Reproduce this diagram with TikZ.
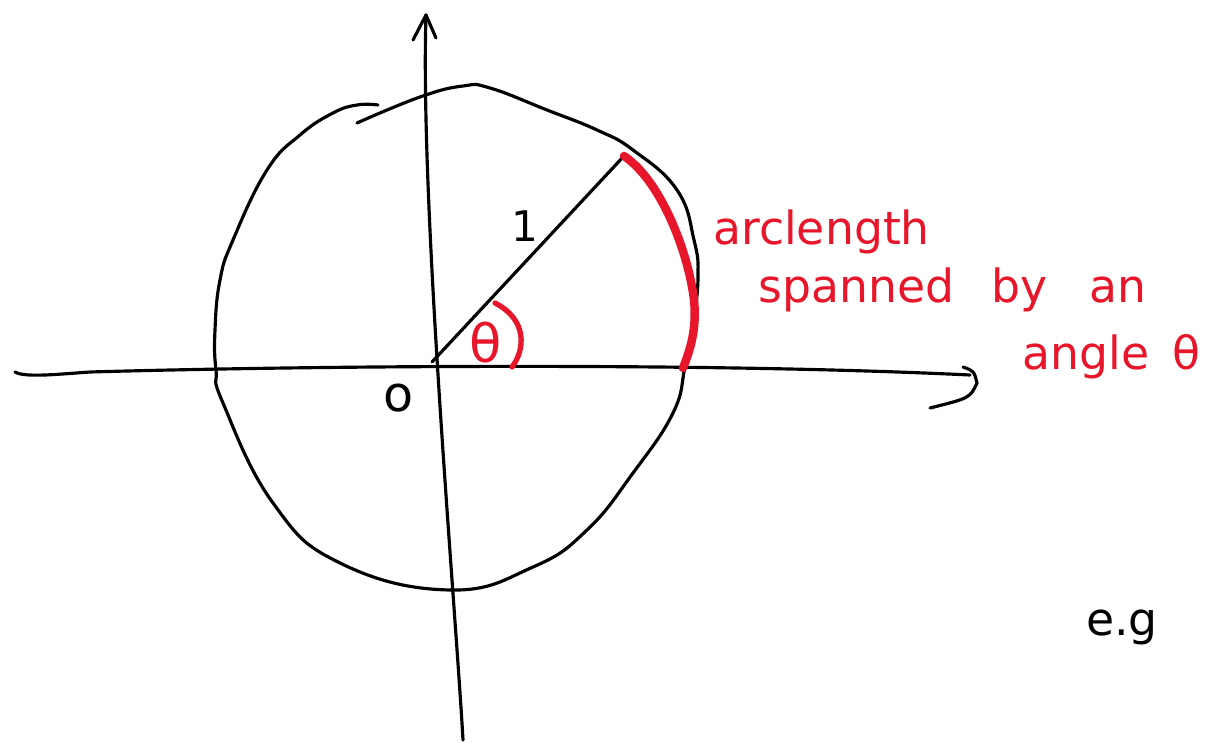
\documentclass[tikz,border=0pt]{standalone}
\usepackage{fontspec}
\setmainfont{DejaVu Sans}
\definecolor{inkred}{RGB}{232,22,42}
\tikzset{
  ink/.style={line width=1.8pt, line cap=round, line join=round},
  redink/.style={inkred, line width=3pt, line cap=round},
  note/.style={inkred, font=\fontsize{26}{30}\selectfont, inner sep=0pt, anchor=base west},
}
\begin{document}
\begin{tikzpicture}[x=0.02cm,y=-0.02cm]
\useasboundingbox (0,0) rectangle (1221,743);

% axes
\coordinate (xl) at (15,372);
\coordinate (xr) at (970,375);
\coordinate (yb) at (463,740);
\coordinate (yt) at (426,15);
\coordinate (O) at (432,362);
\coordinate (P) at (624,156);
\coordinate (Q) at (683,368);

\draw[ink] (xl) .. controls (25,378) and (60,374) .. (90,372)
  .. controls (300,366) and (700,362) .. (xr);
\draw[ink] (963,367) .. controls (974,371) .. (977,383)
  .. controls (970,398) .. (930,408);

\draw[ink] (yb) .. controls (455,600) and (420,200) .. (yt);
\draw[ink] (413,40) -- (yt) -- (436,38);

% unit circle, by hand
\draw[ink] plot[smooth, tension=0.75] coordinates {
  (357,123) (420,97) (463,86) (490,88) (547,110) (597,130)
  (633,150) (677,190) (694,240) (698,277) (693,325) (685,367)
  (673,413) (633,473) (587,530) (533,567) (450,590) (340,563) (273,503)
  (223,403) (216,370) (215,330) (220,280) (233,240) (267,170)
  (300,135) (333,113) (357,105) (378,105)};

% radius
\draw[ink] (O) -- (P);
\node[font=\fontsize{24}{28}\selectfont] (one) at (525,226) {1};

% arc length
\draw[inkred, line width=4.8pt, line cap=round]
  (P) .. controls (660,180) and (688,250) .. (694,300)
  .. controls (697,330) and (690,350) .. (Q);

% angle
\draw[redink] (495,303) .. controls (528,320) and (525,350) .. (512,367);
\node[inkred, font=\fontsize{30}{34}\selectfont] (theta) at (486,343) {θ};

\node[font=\fontsize{28}{32}\selectfont] (origin) at (399,398) {o};

% label
\node[note] (lab1) at (713,245) {arclength};
\node[note] (lab2) at (758,303) {spanned\hspace{0.5em} by\hspace{0.6em} an};
\node[note] (lab3) at (1022,370) {angle\hspace{0.2em} θ};

\node[font=\fontsize{26}{30}\selectfont, anchor=base west] (eg) at (1080,635) {e.g};
\end{tikzpicture}
\end{document}
